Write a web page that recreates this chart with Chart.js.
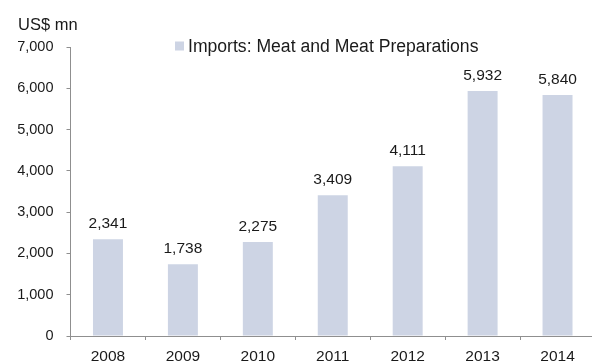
<!DOCTYPE html>
<html>
<head>
<meta charset="utf-8">
<title>Imports: Meat and Meat Preparations</title>
<script src="https://cdn.jsdelivr.net/npm/chart.js@4/dist/chart.umd.min.js"></script>
<style>
  html, body { margin: 0; padding: 0; background: #fff; overflow: hidden; }
  #wrap { position: relative; width: 595px; height: 362px; }
</style>
</head>
<body>
<div id="wrap"><canvas id="myChart"></canvas></div>
<script>
'use strict';

const years = ['2008', '2009', '2010', '2011', '2012', '2013', '2014'];
const meatImports = [2341, 1738, 2275, 3409, 4111, 5932, 5840];
const yTicks = [0, 1000, 2000, 3000, 4000, 5000, 6000, 7000];

const seriesLabel = 'Imports: Meat and Meat Preparations';
const unitLabel = 'US$ mn';
const barColor = '#cdd4e4';
const textColor = '#1a1a1a';
const axisColor = '#8f8f8f';
const fontFamily = '"Liberation Sans", Arial, Helvetica, sans-serif';

const fmt = v => Number(v).toLocaleString('en-US');

// value labels above each bar
const barValues = {
  id: 'barValues',
  afterDatasetsDraw(chart) {
    const ctx = chart.ctx;
    const meta = chart.getDatasetMeta(0);
    ctx.save();
    ctx.font = '15.5px ' + fontFamily;
    ctx.fillStyle = textColor;
    ctx.textAlign = 'center';
    ctx.textBaseline = 'alphabetic';
    meta.data.forEach((bar, i) => {
      ctx.fillText(fmt(chart.data.datasets[0].data[i]), bar.x, bar.y - 11);
    });
    ctx.restore();
  }
};

// unit caption and the single-entry legend
const captions = {
  id: 'captions',
  afterDraw(chart) {
    const ctx = chart.ctx;
    const ds = chart.data.datasets[0];
    ctx.save();
    ctx.fillStyle = textColor;
    ctx.textAlign = 'left';
    ctx.textBaseline = 'alphabetic';
    ctx.font = '16.5px ' + fontFamily;
    ctx.fillText(unitLabel, 18, 29.5);

    ctx.fillStyle = ds.backgroundColor;
    ctx.fillRect(175, 41.5, 9, 9);
    ctx.fillStyle = textColor;
    ctx.font = '17.6px ' + fontFamily;
    ctx.fillText(ds.label, 188, 51.5);
    ctx.restore();
  }
};

const ctx = document.getElementById('myChart').getContext('2d');
const myChart = new Chart(ctx, {
  type: 'bar',
  data: {
    labels: years,
    datasets: [{
      label: seriesLabel,
      data: meatImports,
      backgroundColor: barColor,
      borderWidth: 0,
      barPercentage: 0.4,
      categoryPercentage: 1
    }]
  },
  options: {
    responsive: true,
    maintainAspectRatio: false,
    animation: false,
    layout: { padding: { top: 47, right: 0, bottom: 0, left: 0 } },
    plugins: {
      legend: { display: false },
      tooltip: { enabled: false }
    },
    scales: {
      x: {
        grid: {
          offset: true,
          drawOnChartArea: false,
          drawTicks: true,
          tickLength: 4,
          tickColor: axisColor
        },
        border: { display: true, color: axisColor, width: 1 },
        ticks: {
          color: textColor,
          font: { family: fontFamily, size: 15.5 },
          padding: 7.5,
          maxRotation: 0
        },
        afterFit(scale) { scale.height = 26; }
      },
      y: {
        min: 0,
        max: 7000,
        afterBuildTicks(scale) {
          scale.ticks = yTicks.map(v => ({ value: v }));
        },
        grid: {
          drawOnChartArea: false,
          drawTicks: true,
          tickLength: 4,
          tickColor: axisColor
        },
        border: { display: true, color: axisColor, width: 1 },
        ticks: {
          color: textColor,
          font: { family: fontFamily, size: 14.5 },
          padding: 13,
          callback: v => fmt(v)
        },
        afterFit(scale) { scale.width = 70.5; }
      }
    }
  },
  plugins: [barValues, captions]
});
</script>
</body>
</html>
